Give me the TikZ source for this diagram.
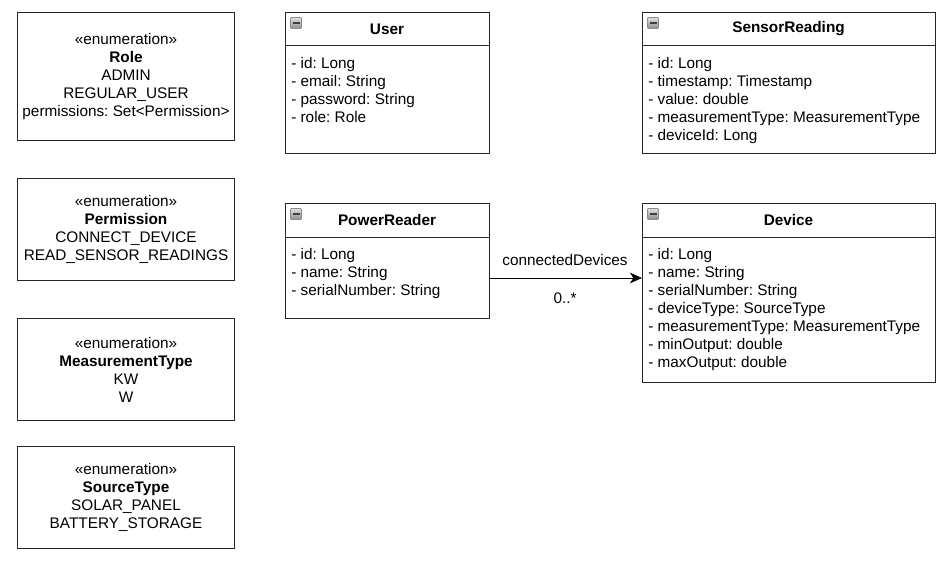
\documentclass[tikz,border=0pt]{standalone}
\usepackage{fontspec}
\setmainfont{Liberation Sans}
\usetikzlibrary{arrows.meta,calc}
\newcommand\umlminusicon[2]{%
  \draw[draw=black!45, line width=0.5pt, rounded corners=0.6pt, top color=black!12, bottom color=black!45] (#1,#2) rectangle ++(11,11);
  \fill[black!75] ($(#1,#2)+(2,4.5)$) rectangle ++(7,2);
}
\tikzset{
  ff/.style={font=\fontsize{11.5}{13.5}\selectfont},
  box/.style={draw=black!85, line width=0.75pt, fill=white, inner sep=0pt, anchor=north west, ff},
  cls/.style 2 args={box, minimum width=#1*0.75pt, minimum height=#2*0.75pt},
  enumbox/.style 2 args={box, align=center, minimum width=#1*0.75pt, minimum height=#2*0.75pt},
  ttl/.style={inner sep=0pt, font=\fontsize{11.5}{13.5}\selectfont\bfseries},
  attrs/.style={ff, inner sep=0pt, anchor=north west, align=left},
  sep/.style={draw=black!85, line width=0.75pt},
  conn/.style={draw=black, line width=0.75pt, -{Stealth[length=9pt, width=8pt, inset=2.5pt]}},
  lbl/.style={ff, inner sep=0pt}
}
\begin{document}
\frenchspacing
\begin{tikzpicture}[x=0.75pt, y=-0.75pt]
\useasboundingbox[fill=white] (0,0) rectangle (952,562);

% enumerations
\node[enumbox={217}{128}] (role) at (17,12) {«enumeration»\\\textbf{Role}\\ADMIN\\REGULAR\_USER\\permissions: Set<Permission>};
\node[enumbox={217}{102}] (perm) at (17,178) {«enumeration»\\\textbf{Permission}\\CONNECT\_DEVICE\\READ\_SENSOR\_READINGS};
\node[enumbox={217}{102}] (mtype) at (17,318) {«enumeration»\\\textbf{MeasurementType}\\KW\\W};
\node[enumbox={217}{102}] (stype) at (17,446) {«enumeration»\\\textbf{SourceType}\\SOLAR\_PANEL\\BATTERY\_STORAGE};

% classes
\node[cls={204}{141}] (user) at (285,12) {};
\draw[sep] (285,45) -- (489,45);
\umlminusicon{290.5}{17.5}
\node[ttl] (usert) at (387,29) {User};
\node[attrs] (usera) at (291,56) {\strut- id: Long\\- email: String\\- password: String\\- role: Role};

\node[cls={293}{141}] (sr) at (642,12) {};
\draw[sep] (642,45) -- (935,45);
\umlminusicon{647.5}{17.5}
\node[ttl] (srt) at (788.5,29) {SensorReading};
\node[attrs] (sra) at (648,56) {\strut- id: Long\\- timestamp: Timestamp\\- value: double\\- measurementType: MeasurementType\\- deviceId: Long};

\node[cls={204}{115}] (pr) at (285,203) {};
\draw[sep] (285,237) -- (489,237);
\umlminusicon{290.5}{208.5}
\node[ttl] (prt) at (387,220) {PowerReader};
\node[attrs] (pra) at (291,247) {\strut- id: Long\\- name: String\\- serialNumber: String};

\node[cls={293}{179}] (dev) at (642,203) {};
\draw[sep] (642,237) -- (935,237);
\umlminusicon{647.5}{208.5}
\node[ttl] (devt) at (788.5,220) {Device};
\node[attrs] (deva) at (648,247) {\strut- id: Long\\- name: String\\- serialNumber: String\\- deviceType: SourceType\\- measurementType: MeasurementType\\- minOutput: double\\- maxOutput: double};

% association
\coordinate (ay) at (565,278);
\draw[conn] (pr.east |- ay) -- (dev.west |- ay);
\node[lbl] (l1) at (565,260) {connectedDevices};
\node[lbl] (l2) at (565,298) {0..*};
\end{tikzpicture}
\end{document}
